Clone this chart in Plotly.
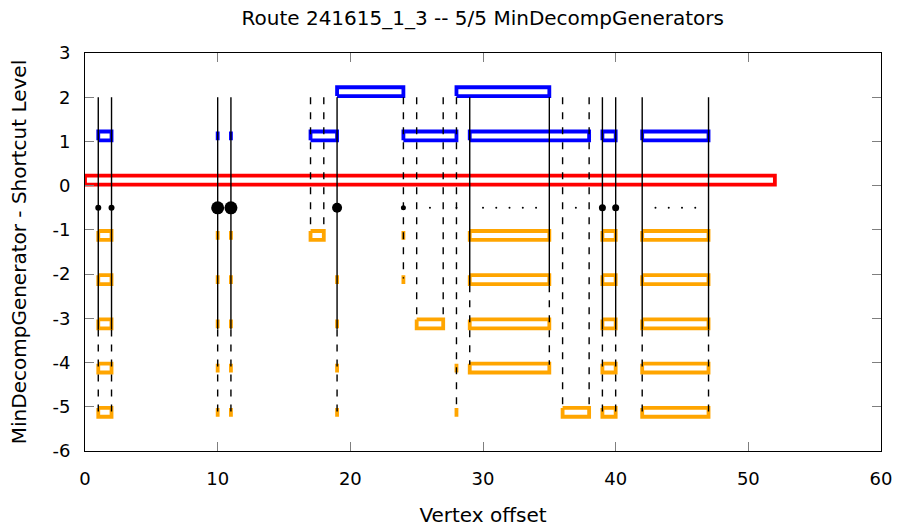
import plotly.graph_objects as go

# ---------------- data ----------------
# boxes: (start, end) per level
red_level = 0
red_boxes = [(0, 52)]

blue_levels = [1, 2]
blue_boxes = {
    1: [(1, 2), (10, 10), (11, 11), (17, 19), (24, 28), (29, 38), (39, 40), (42, 47)],
    2: [(19, 24), (28, 35)],
}

orange_levels = [-1, -2, -3, -4, -5]
orange_boxes = {
    -1: [(1, 2), (10, 10), (11, 11), (17, 18), (24, 24), (29, 35), (39, 40), (42, 47)],
    -2: [(1, 2), (10, 10), (11, 11), (19, 19), (24, 24), (29, 35), (39, 40), (42, 47)],
    -3: [(1, 2), (10, 10), (11, 11), (19, 19), (25, 27), (29, 35), (39, 40), (42, 47)],
    -4: [(1, 2), (10, 10), (11, 11), (19, 19), (28, 28), (29, 35), (39, 40), (42, 47)],
    -5: [(1, 2), (10, 10), (11, 11), (19, 19), (28, 28), (36, 38), (39, 40), (42, 47)],
}

# vertical vertex lines: x, top, bottom of solid part (None = no solid), bottom of dashed part
line_x = [1, 2, 10, 11, 17, 18, 19, 24, 25, 27, 28, 29, 35, 36, 38, 39, 40, 42, 47]
line_top = [2] * len(line_x)
solid_bottom = [-3.25, -3.25, -3.25, -3.25, None, None, -3.25, None, None, None, None,
                -2.25, -2.25, None, None, -3.25, -3.25, -3.25, -3.25]
dash_bottom = [-5.15, -5.15, -5.15, -5.15, -1.0, -1.0, -5.15, -2.1, -3.0, -3.0, -5.1,
               -4.05, -4.05, -5.0, -5.0, -5.15, -5.15, -5.15, -5.15]

# dots on the -0.5 row
dot_level = -0.5
dot_x = [1, 2, 10, 11, 19, 24, 26, 28, 30, 31, 32, 33, 34, 37, 39, 40, 43, 44, 45, 46]
dot_size = [6, 6, 13, 13, 10, 5, 2, 2, 2, 2, 2, 2, 2, 2, 7, 7, 2, 2, 2, 2]

x_tick_vals = [0, 10, 20, 30, 40, 50, 60]
x_tick_text = ["0", "10", "20", "30", "40", "50", "60"]
y_tick_vals = [-6, -5, -4, -3, -2, -1, 0, 1, 2, 3]
y_tick_text = ["-6", "-5", "-4", "-3", "-2", "-1", "0", "1", "2", "3"]

title_text = "Route 241615_1_3 -- 5/5 MinDecompGenerators"
x_title = "Vertex offset"
y_title = "MinDecompGenerator - Shortcut Level"

# ---------------- helpers ----------------
BOX_H0, BOX_H1 = 0.025, 0.225


def rect_path(boxes, level, up=True):
    xs, ys = [], []
    for a, b in boxes:
        if up:
            y0, y1 = level + BOX_H0, level + BOX_H1
        else:
            y0, y1 = level - BOX_H0, level - BOX_H1
        xs += [a, b, b, a, a, None]
        ys += [y0, y0, y1, y1, y0, None]
    return xs, ys


fig = go.Figure()

BOX_W = 3.8
# red
xs, ys = rect_path(red_boxes, red_level, up=True)
fig.add_trace(go.Scatter(x=xs, y=ys, mode="lines", line=dict(color="#ff0000", width=BOX_W),
                         hoverinfo="skip", showlegend=False))
# blue
bx, by = [], []
for lv in blue_levels:
    xs, ys = rect_path(blue_boxes[lv], lv, up=True)
    bx += xs
    by += ys
fig.add_trace(go.Scatter(x=bx, y=by, mode="lines", line=dict(color="#0000ff", width=BOX_W),
                         hoverinfo="skip", showlegend=False))
# orange
ox, oy = [], []
for lv in orange_levels:
    xs, ys = rect_path(orange_boxes[lv], lv, up=False)
    ox += xs
    oy += ys
fig.add_trace(go.Scatter(x=ox, y=oy, mode="lines", line=dict(color="#ffa500", width=BOX_W),
                         hoverinfo="skip", showlegend=False))

# vertical lines
sx, sy, dx, dy = [], [], [], []
for x, t, sb, db in zip(line_x, line_top, solid_bottom, dash_bottom):
    if sb is not None:
        sx += [x, x, None]
        sy += [t, sb, None]
        dx += [x, x, None]
        dy += [sb, db, None]
    else:
        dx += [x, x, None]
        dy += [t, db, None]
fig.add_trace(go.Scatter(x=dx, y=dy, mode="lines",
                         line=dict(color="black", width=1.4, dash="7px,8px"),
                         hoverinfo="skip", showlegend=False))
fig.add_trace(go.Scatter(x=sx, y=sy, mode="lines", line=dict(color="black", width=1.4),
                         hoverinfo="skip", showlegend=False))

# dots
fig.add_trace(go.Scatter(x=dot_x, y=[dot_level] * len(dot_x), mode="markers",
                         marker=dict(color="black", size=dot_size, opacity=1, line=dict(width=0)),
                         hoverinfo="skip", showlegend=False))

font = "DejaVu Sans, sans-serif"
axis_common = dict(showline=True, linecolor="black", linewidth=1, mirror="ticks",
                   ticks="inside", ticklen=9, tickcolor="#7f7f7f", tickwidth=1,
                   showgrid=False, zeroline=False, tickmode="array", automargin=False,
                   tickfont=dict(family=font, size=18, color="black"))

fig.update_layout(
    width=899, height=529,
    margin=dict(l=85, r=18, t=53, b=78),
    paper_bgcolor="white", plot_bgcolor="white",
    title=dict(text=title_text, x=0.537, xanchor="center", y=0.966, yanchor="middle",
               font=dict(family=font, size=20, color="black"), automargin=False),
    xaxis=dict(range=[0, 60], tickvals=x_tick_vals, ticktext=x_tick_text, ticklabelstandoff=11,
               title=dict(text=x_title, font=dict(family=font, size=20, color="black"), standoff=20),
               **axis_common),
    yaxis=dict(range=[-6, 3], tickvals=y_tick_vals, ticktext=y_tick_text, ticklabelstandoff=10,
               title=dict(text=y_title, font=dict(family=font, size=20, color="black"), standoff=20),
               **axis_common),
)

fig.write_html("out.html")
